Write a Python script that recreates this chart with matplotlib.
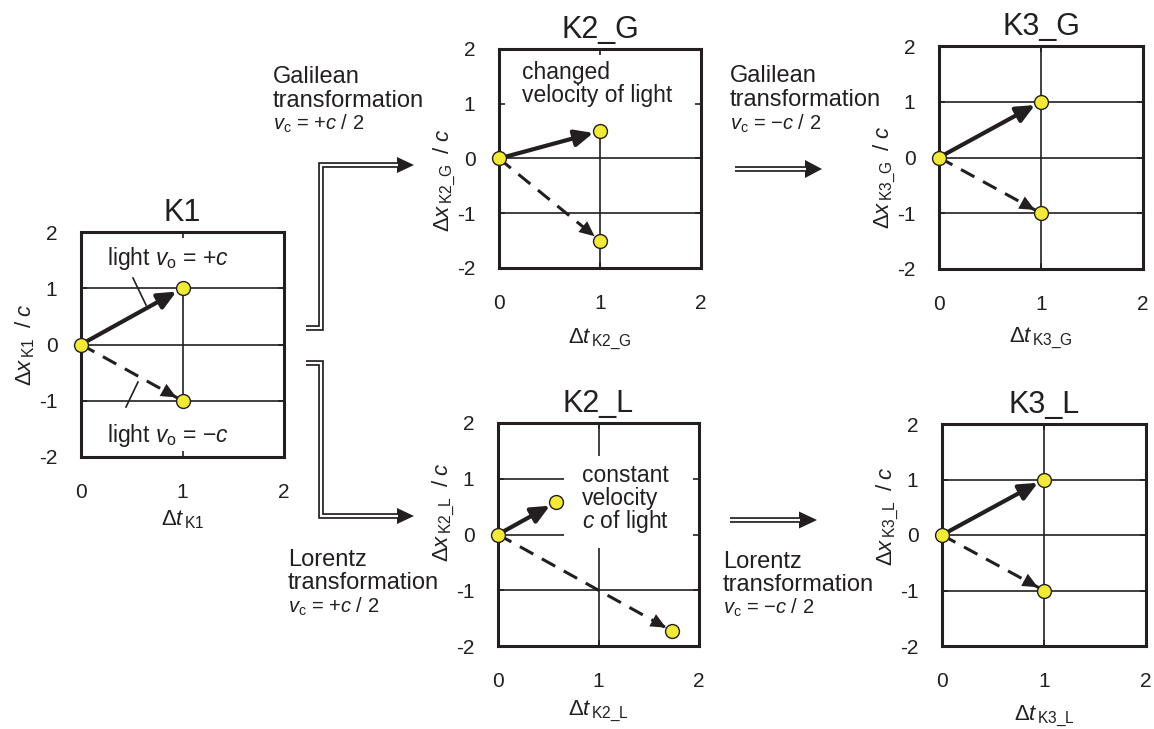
import matplotlib
matplotlib.use('Agg')
import matplotlib.pyplot as plt
from matplotlib.lines import Line2D
from matplotlib.patches import Polygon

plt.rcParams['font.family'] = ['Liberation Sans', 'DejaVu Sans']
plt.rcParams['mathtext.fontset'] = 'custom'
plt.rcParams['mathtext.rm'] = 'Liberation Sans'
plt.rcParams['mathtext.it'] = 'Liberation Sans:italic'
plt.rcParams['mathtext.bf'] = 'Liberation Sans:bold'

# ---------------- data ----------------
panels = ['K1', 'K2_G', 'K3_G', 'K2_L', 'K3_L']
plus_t = [1.0, 1.0, 1.0, 0.577, 1.0]      # light moving in +x direction: end time
plus_x = [1.0, 0.5, 1.0, 0.577, 1.0]      # end position
minus_t = [1.0, 1.0, 1.0, 1.732, 1.0]     # light moving in -x direction
minus_x = [-1.0, -1.5, -1.0, -1.732, -1.0]
x_ticks = [0, 1, 2]
x_tick_labels = ['0', '1', '2']
y_ticks = [-2, -1, 0, 1, 2]
y_tick_labels = ['-2', '-1', '0', '1', '2']

# grid segments: horizontal (x-value, t from, t to) and vertical (t-value, x from, x to)
hgrid = {
    'K1': [(1, 0, 2), (0, 0, 2), (-1, 0, 2)],
    'K2_G': [(0, 0, 2), (-1, 0, 2)],
    'K3_G': [(1, 0, 2), (0, 0, 2), (-1, 0, 2)],
    'K2_L': [(1, 0, 0.66), (0, 0, 0.66), (-1, 0, 2)],
    'K3_L': [(1, 0, 2), (0, 0, 2), (-1, 0, 2)],
}
vgrid = {
    'K1': [(1, -1, 1)],
    'K2_G': [(1, -2, 0.5)],
    'K3_G': [(1, -2, 2)],
    'K2_L': [(1, 1.41, 2), (1, -2, -0.25)],
    'K3_L': [(1, -2, 2)],
}

# ---------------- layout ----------------
W, H = 1154, 729
ink = '#231f20'
yellow = '#f2ea37'

boxes = {  # left, top, right, bottom in pixels
    'K1': (81, 232, 284, 457),
    'K2_G': (499, 49, 701, 268),
    'K3_G': (939, 46, 1143, 269),
    'K2_L': (498, 423, 699, 646),
    'K3_L': (942, 424, 1146, 646),
}
ylabel_center = {'K1': 345, 'K2_G': 180, 'K3_G': 177, 'K2_L': 512, 'K3_L': 516}
xlabel_base = {'K1': 525, 'K2_G': 343, 'K3_G': 342, 'K2_L': 715, 'K3_L': 720}


def fx(x):
    return x / W


def fy(y):
    return 1 - y / H


fig = plt.figure(figsize=(W / 100, H / 100), dpi=100)

for i, name in enumerate(panels):
    l, t, r, b = boxes[name]
    ax = fig.add_axes([fx(l), fy(b), (r - l) / W, (b - t) / H])
    ax.set_xlim(0, 2)
    ax.set_ylim(-2, 2)
    ax.set_xticks(x_ticks)
    ax.set_xticklabels(x_tick_labels)
    ax.set_yticks(y_ticks)
    ax.set_yticklabels(y_tick_labels)
    ax.tick_params(direction='in', length=4, width=1.2, color=ink,
                   top=True, right=True, labelsize=15, labelcolor=ink)
    ax.tick_params(axis='x', pad=19)
    ax.tick_params(axis='y', pad=17)
    for s in ax.spines.values():
        s.set_linewidth(2.2)
        s.set_color(ink)
    ax.set_title(name, fontsize=22, pad=8, color=ink)

    for (yv, t0, t1) in hgrid[name]:
        ax.hlines(yv, t0, t1, colors=ink, lw=1.2, zorder=1)
    for (tv, x0, x1) in vgrid[name]:
        ax.vlines(tv, x0, x1, colors=ink, lw=1.2, zorder=1)

    # solid arrow (light towards +x)
    ax.annotate('', xy=(plus_t[i], plus_x[i]), xytext=(0, 0),
                arrowprops=dict(arrowstyle='-|>,head_length=1.1,head_width=0.5',
                                mutation_scale=10, lw=3.0, color=ink,
                                shrinkA=0, shrinkB=5), zorder=3)
    # dashed arrow (light towards -x)
    ax.plot([0, minus_t[i]], [0, minus_x[i]], ls=(0, (5, 3.2)), lw=2.2,
            color=ink, zorder=3, solid_capstyle='butt', dash_capstyle='butt')
    ax.annotate('', xy=(minus_t[i], minus_x[i]),
                xytext=(0.75 * minus_t[i], 0.75 * minus_x[i]),
                arrowprops=dict(arrowstyle='-|>,head_length=1.1,head_width=0.5',
                                mutation_scale=10, lw=0, color=ink,
                                shrinkA=0, shrinkB=5), zorder=3)
    # points
    ax.plot([0, plus_t[i], minus_t[i]], [0, plus_x[i], minus_x[i]], 'o',
            ms=10, mfc=yellow, mec=ink, mew=1.0, clip_on=False, zorder=5)

    # axis labels
    sub = name.replace('_', r'\_')
    ax.text(-50 / (r - l), (b - ylabel_center[name]) / (b - t),
            r'$\Delta\mathit{x}_{\,\mathrm{' + sub + r'}}\;\;/\;\mathit{c}$',
            transform=ax.transAxes, rotation=90, rotation_mode='anchor',
            ha='center', va='baseline', fontsize=16, color=ink)
    ax.text(0.5, (b - xlabel_base[name]) / (b - t),
            r'$\Delta\mathit{t}_{\,\mathrm{' + sub + r'}}$',
            transform=ax.transAxes, ha='center', va='baseline',
            fontsize=16, color=ink)


# ---------------- annotations ----------------
def ftext(x, y, s, size=17, **kw):
    fig.text(fx(x), fy(y), s, fontsize=size, ha='left', va='baseline', color=ink, **kw)


vc_plus = r'$\mathit{v}_{\mathrm{c}}$ = +$\mathit{c}$ / 2'
vc_minus = r'$\mathit{v}_{\mathrm{c}}$ = −$\mathit{c}$ / 2'

ftext(273, 83, 'Galilean')
ftext(273, 107, 'transformation')
ftext(273, 130, vc_plus, size=14.5)

ftext(730, 82, 'Galilean')
ftext(730, 106, 'transformation')
ftext(730, 130, vc_minus, size=14.5)

ftext(288, 566, 'Lorentz')
ftext(288, 589, 'transformation')
ftext(288, 613, vc_plus, size=14.5)

ftext(723, 568, 'Lorentz')
ftext(723, 591, 'transformation')
ftext(723, 614, vc_minus, size=14.5)

ftext(107, 265, r'light $\mathit{v}_{\mathrm{o}}$ = +$\mathit{c}$', size=16.5)
ftext(107, 442, r'light $\mathit{v}_{\mathrm{o}}$ = −$\mathit{c}$', size=16.5)
fig.add_artist(Line2D([fx(133), fx(146)], [fy(278), fy(305)], lw=1.2, color=ink))
fig.add_artist(Line2D([fx(126), fx(138)], [fy(407), fy(382)], lw=1.2, color=ink))

ftext(522, 79, 'changed', size=16.5)
ftext(522, 102, 'velocity of light', size=16.5)

ftext(582, 482, 'constant', size=16.5)
ftext(582, 505, 'velocity', size=16.5)
ftext(582, 528, r'$\mathit{c}$ of light', size=16.5)


# ---------------- double-line transformation arrows ----------------
def double_arrow(pts, tip_x, half):
    xs = [fx(p[0]) for p in pts]
    ys = [fy(p[1]) for p in pts]
    fig.add_artist(Line2D(xs, ys, lw=4.1, color=ink,
                          solid_joinstyle='miter', solid_capstyle='butt'))
    fig.add_artist(Line2D(xs, ys, lw=1.6, color='white',
                          solid_joinstyle='miter', solid_capstyle='butt'))
    bx, by = pts[-1]
    fig.add_artist(Polygon([(fx(bx - 1), fy(by - half)), (fx(tip_x), fy(by)),
                            (fx(bx - 1), fy(by + half))],
                           closed=True, facecolor=ink, edgecolor='none'))


double_arrow([(306, 328), (321, 328), (321, 165), (398, 165)], 414, 8)
double_arrow([(306, 363), (321, 363), (321, 516), (398, 516)], 414, 8)
double_arrow([(735, 169), (806, 169)], 822, 9)
double_arrow([(730, 520), (800, 520)], 817, 8.5)

fig.savefig('out.png', dpi=100)
